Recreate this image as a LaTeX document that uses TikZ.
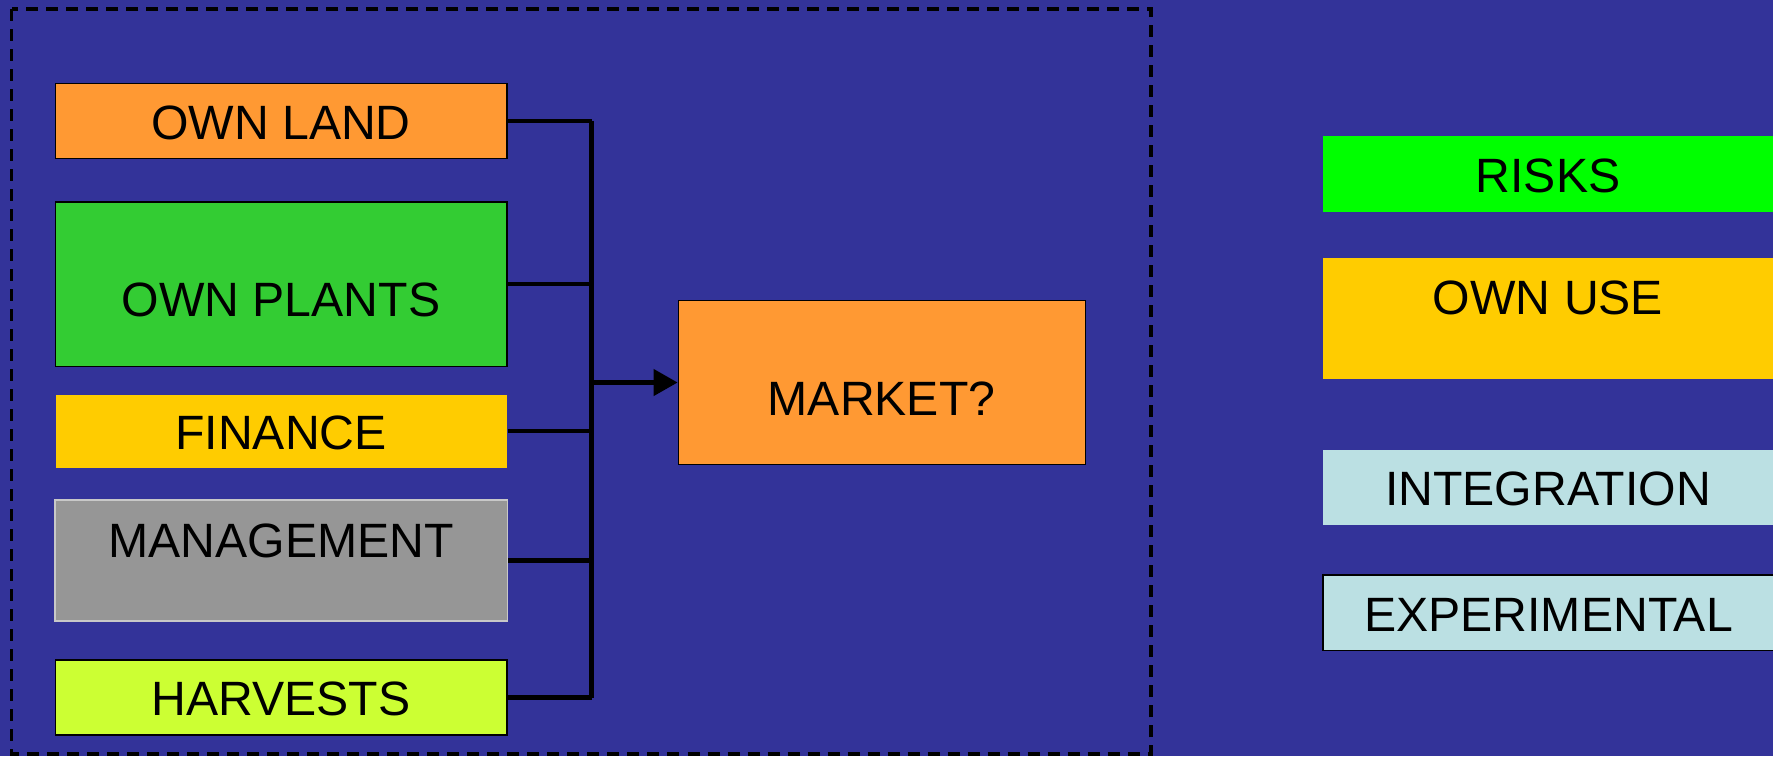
\documentclass[tikz,border=0pt]{standalone}
\usepackage{fontspec}
\setmainfont{Liberation Sans}
\usetikzlibrary{fit,arrows.meta}
\definecolor{bg}{RGB}{51,51,153}
\definecolor{orangebox}{RGB}{255,153,51}
\definecolor{greenbox}{RGB}{51,204,51}
\definecolor{yellowbox}{RGB}{255,204,0}
\definecolor{greybox}{RGB}{150,150,150}
\definecolor{greyedge}{RGB}{200,200,200}
\definecolor{limebox}{RGB}{204,255,51}
\definecolor{riskgreen}{RGB}{0,255,0}
\definecolor{paleblue}{RGB}{187,224,227}
\begin{document}
\begin{tikzpicture}[x=0.01cm,y=-0.01cm,
  box/.style={draw=black,line width=0.4pt,inner sep=0pt,rectangle},
  plainbox/.style={draw=none,inner sep=0pt,rectangle},
  txt/.style={inner sep=0pt,font=\fontsize{13.7pt}{16pt}\selectfont,text=black},
  conn/.style={draw=black,line width=1.25pt},
  trunk/.style={draw=black,line width=1.5pt},
  frame/.style={draw=black,line width=0.95pt,dash pattern=on 0.12cm off 0.08cm}]
\fill[bg] (0,0) rectangle (1773,756);
\useasboundingbox (0,0) rectangle (1773,756);
% dashed frame
\draw[frame] (11.7,9) rectangle (1151,754);
% left boxes
\node[box,fill=orangebox,fit={(55.5,83.5) (507,158.5)}] (land) {};
\node[txt] (tland) at (281,123) {OWN LAND};
\node[box,fill=greenbox,fit={(55.5,202) (507,366.5)}] (plants) {};
\node[txt] (tplants) at (281,300) {OWN PLANTS};
\node[plainbox,fill=yellowbox,fit={(55.5,394.5) (507,468)}] (fin) {};
\node[txt] (tfin) at (281,432.5) {FINANCE};
\node[box,draw=greyedge,fill=greybox,fit={(55,500) (507.5,621)}] (mgmt) {};
\node[txt] (tmgmt) at (281,541) {MANAGEMENT};
\node[box,fill=limebox,fit={(55.5,660) (507,735)}] (harv) {};
\node[txt] (tharv) at (281,699) {HARVESTS};
% market
\node[box,fill=orangebox,fit={(678.3,300.5) (1085.5,464.5)}] (market) {};
\node[txt] (tmarket) at (881.5,398.5) {MARKET?};
% connectors
\coordinate (jbot) at (591.7,697.5);
\draw[trunk] (land.east -| jbot) -- (jbot);
\draw[conn] (land.east) -- (land.east -| jbot);
\draw[conn] (harv.east) -- (jbot);
\draw[conn] (plants.east) -- (plants.east -| jbot);
\draw[conn] (fin.east) -- (fin.east -| jbot);
\draw[conn] (mgmt.east) -- (mgmt.east -| jbot);
\draw[conn,-{Triangle[length=0.24cm,width=0.26cm]}] (market.west -| jbot) -- (market.west);
% right boxes
\node[plainbox,fill=riskgreen,fit={(1323,136) (1773,212)}] (risks) {};
\node[txt] (trisks) at (1548,175.5) {RISKS};
\node[plainbox,fill=yellowbox,fit={(1323,258) (1773,379)}] (ownuse) {};
\node[txt] (townuse) at (1548,297.5) {OWN USE};
\node[plainbox,fill=paleblue,fit={(1323,449.5) (1773,525)}] (integ) {};
\node[txt] (tinteg) at (1548,489) {INTEGRATION};
\node[box,fill=paleblue,fit={(1323,575) (1780,650.5)}] (exper) {};
\node[txt] (texper) at (1548.5,615) {EXPERIMENTAL};
\end{tikzpicture}
\end{document}
